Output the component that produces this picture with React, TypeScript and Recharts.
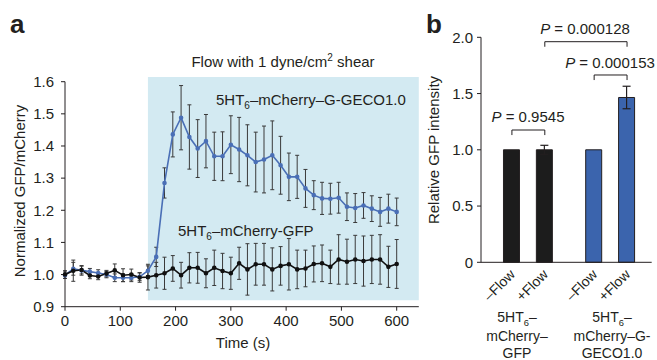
import {Bar, BarChart, Cell, ComposedChart, ErrorBar, Line, ReferenceArea, ReferenceLine, XAxis, YAxis} from 'recharts';

const FONT = '"Liberation Sans", Arial, Helvetica, sans-serif';
const INK = '#231f20';
const LINE_BLUE = '#4a6fb6';
const BAR_BLUE = '#3b64ad';
const BAR_BLACK = '#1c1c1c';
const SHADE = '#d3eaf2';

// panel a: time course, one point every 15 s
const times = [
  0, 15, 30, 45, 60, 75, 90, 105, 120, 135, 150, 165, 180, 195, 210, 225, 240, 255, 270, 285, 300,
  315, 330, 345, 360, 375, 390, 405, 420, 435, 450, 465, 480, 495, 510, 525, 540, 555, 570, 585, 600,
];
const gecoMean = [
  0.998, 1.018, 1.013, 1.009, 1.005, 1.0, 0.99, 0.99, 0.99, 0.993, 1.012, 1.055, 1.285, 1.436, 1.488,
  1.428, 1.392, 1.415, 1.368, 1.368, 1.404, 1.389, 1.371, 1.35, 1.358, 1.371, 1.34, 1.304, 1.304,
  1.268, 1.247, 1.237, 1.236, 1.239, 1.211, 1.207, 1.215, 1.205, 1.195, 1.205, 1.195,
];
const gecoErr = [
  0.01, 0.02, 0.015, 0.01, 0.01, 0.01, 0.012, 0.012, 0.012, 0.012, 0.015, 0.03, 0.047, 0.07, 0.1,
  0.1, 0.09, 0.083, 0.075, 0.076, 0.09, 0.1, 0.095, 0.093, 0.104, 0.107, 0.09, 0.074, 0.067,
  0.059, 0.045, 0.05, 0.048, 0.048, 0.043, 0.045, 0.04, 0.04, 0.045, 0.045, 0.043,
];
const gfpMean = [
  1.0, 1.012, 1.014, 0.997, 0.994, 1.003, 1.013, 0.998, 1.0, 0.991, 0.992, 0.998, 1.004, 1.019, 0.998,
  1.021, 1.021, 1.004, 1.021, 1.011, 1.004, 1.035, 1.016, 1.032, 1.032, 1.016, 1.027, 1.032, 1.016,
  1.019, 1.033, 1.035, 1.024, 1.047, 1.04, 1.047, 1.042, 1.047, 1.047, 1.024, 1.033,
];
const gfpErr = [
  0.012, 0.033, 0.012, 0.01, 0.01, 0.01, 0.02, 0.02, 0.017, 0.015, 0.04, 0.04, 0.05, 0.04, 0.04,
  0.047, 0.048, 0.045, 0.055, 0.055, 0.05, 0.05, 0.08, 0.065, 0.065, 0.067, 0.06, 0.08, 0.06,
  0.057, 0.056, 0.057, 0.052, 0.077, 0.07, 0.075, 0.078, 0.075, 0.077, 0.064, 0.076,
];
const timeTicks = [0, 100, 200, 300, 400, 500, 600];
const ratioTicks = [0.9, 1.0, 1.1, 1.2, 1.3, 1.4, 1.5, 1.6];

// panel b: bars
const barPositions = [1, 2, 3.5, 4.5];
const barLabels = ['\u2013Flow', '+Flow', '\u2013Flow', '+Flow'];
const barMeans = [1.0, 1.0, 1.0, 1.465];
const barErrs = [0, 0.04, 0, 0.1];
const barColors = [BAR_BLACK, BAR_BLACK, BAR_BLUE, BAR_BLUE];
const intensityTicks = [0, 0.5, 1.0, 1.5, 2.0];

// significance brackets: [from, to, level]
const brackets = [
  [1, 2, 1.176],
  [3.5, 4.5, 1.665],
  [2, 4.5, 1.961],
];

const timeData = times.map((t, i) => ({
  t,
  geco: gecoMean[i],
  gecoErr: gecoErr[i],
  gfp: gfpMean[i],
  gfpErr: gfpErr[i],
}));

const barData = barPositions.map((pos, i) => ({pos, value: barMeans[i], err: barErrs[i]}));

const tickStyle = {fontSize: 15, fill: INK, fontFamily: FONT};

const FlowTick = (props: any) => {
  const {x, y, payload} = props;
  const idx = barPositions.indexOf(payload.value);
  const ax = x + 4;
  const ay = y + 5;
  return (
    <text x={ax} y={ay} textAnchor="end" fontSize={14} fill={INK} fontFamily={FONT}
          transform={`rotate(-45, ${ax}, ${ay})`}>
      {barLabels[idx]}
    </text>
  );
};

// "5HT" with a subscript 6, then the rest of the name
const Construct = ({x, y, size, anchor, rest}: any) => (
  <text x={x} y={y} fontSize={size} textAnchor={anchor}>
    5HT<tspan fontSize={size * 0.67} dy={4}>6</tspan><tspan dy={-4}>{rest}</tspan>
  </text>
);

export default function App() {
  return (
    <div style={{position: 'absolute', left: 0, top: 0, width: 657, height: 360, background: '#fff', fontFamily: FONT}}>
      <div style={{position: 'absolute', left: 0, top: 0}}>
        <ComposedChart width={430} height={360} data={timeData}
                       margin={{top: 81.7, right: 11.2, bottom: 23.3, left: 20}}>
          <ReferenceArea x1={150} x2={640} y1={0.92} y2={1.615} fill={SHADE} fillOpacity={1}
                         stroke="none" ifOverflow="visible" />
          <XAxis dataKey="t" type="number" domain={[0, 640]} ticks={timeTicks} height={30}
                 tick={tickStyle} tickSize={4} tickMargin={5}
                 axisLine={{stroke: INK}} tickLine={{stroke: INK}} />
          <YAxis type="number" domain={[0.9, 1.6]} ticks={ratioTicks} width={45}
                 tick={tickStyle} tickSize={4} tickMargin={7}
                 tickFormatter={(v: number) => v.toFixed(1)}
                 axisLine={{stroke: INK}} tickLine={{stroke: INK}} />
          <Line dataKey="geco" stroke={LINE_BLUE} strokeWidth={1.6} isAnimationActive={false}
                dot={{r: 1.5, fill: LINE_BLUE, stroke: LINE_BLUE}}>
            <ErrorBar dataKey="gecoErr" width={2} stroke="#3a3a3a" strokeWidth={1} direction="y" />
          </Line>
          <Line dataKey="gfp" stroke="#111" strokeWidth={1.6} isAnimationActive={false}
                dot={{r: 1.5, fill: '#111', stroke: '#111'}}>
            <ErrorBar dataKey="gfpErr" width={2} stroke="#3a3a3a" strokeWidth={1} direction="y" />
          </Line>
        </ComposedChart>
      </div>

      <div style={{position: 'absolute', left: 420, top: 0}}>
        <BarChart width={237} height={360} data={barData}
                  margin={{top: 37.3, right: 5.3, bottom: 67.7, left: 20}}>
          <XAxis dataKey="pos" type="number" domain={[0.06, 5.25]} ticks={barPositions} height={30}
                 tick={<FlowTick />} tickLine={false} axisLine={{stroke: INK}} interval={0} />
          <YAxis type="number" domain={[0, 2]} ticks={intensityTicks} width={41}
                 tick={tickStyle} tickSize={4} tickMargin={4}
                 tickFormatter={(v: number) => (v === 0 ? '0' : v.toFixed(1))}
                 axisLine={{stroke: INK}} tickLine={{stroke: INK}} />
          <Bar dataKey="value" barSize={16} stroke={INK} strokeWidth={1} isAnimationActive={false}>
            {barData.map((d, i) => (
              <Cell key={`bar-${i}`} fill={barColors[i]} />
            ))}
            <ErrorBar dataKey="err" width={4} stroke={INK} strokeWidth={1.2} direction="y" />
          </Bar>
          {brackets.map(([a, b, lvl], i) => (
            <ReferenceLine key={`bh-${i}`} ifOverflow="visible" stroke={INK} strokeWidth={1}
                           segment={[{x: a, y: lvl}, {x: b, y: lvl}]} />
          ))}
          {brackets.map(([a, , lvl], i) => (
            <ReferenceLine key={`bl-${i}`} ifOverflow="visible" stroke={INK} strokeWidth={1}
                           segment={[{x: a, y: lvl}, {x: a, y: lvl - 0.045}]} />
          ))}
          {brackets.map(([, b, lvl], i) => (
            <ReferenceLine key={`br-${i}`} ifOverflow="visible" stroke={INK} strokeWidth={1}
                           segment={[{x: b, y: lvl}, {x: b, y: lvl - 0.045}]} />
          ))}
        </BarChart>
      </div>

      <svg width={657} height={360} style={{position: 'absolute', left: 0, top: 0, pointerEvents: 'none'}}
           fontFamily={FONT} fill={INK}>
        <text x={10} y={33} fontSize={26} fontWeight="bold">a</text>
        <text x={426} y={33} fontSize={26} fontWeight="bold">b</text>

        <text x={283} y={67} fontSize={15} textAnchor="middle">
          Flow with 1 dyne/cm<tspan fontSize={10} dy={-6}>2</tspan><tspan dy={6}> shear</tspan>
        </text>
        <Construct x={216} y={105} size={15} anchor="start" rest={'\u2013mCherry\u2013G-GECO1.0'} />
        <Construct x={178} y={236} size={15} anchor="start" rest={'\u2013mCherry-GFP'} />

        <text transform="translate(24.5,191) rotate(-90)" fontSize={15} textAnchor="middle">
          Normalized GFP/mCherry
        </text>
        <text x={243} y={348} fontSize={15} textAnchor="middle">Time (s)</text>

        <text transform="translate(438.5,150) rotate(-90)" fontSize={15} textAnchor="middle">
          Relative GFP intensity
        </text>

        <text x={528} y={122} fontSize={15} textAnchor="middle">
          <tspan fontStyle="italic">P</tspan> = 0.9545
        </text>
        <text x={610} y={68} fontSize={15} textAnchor="middle">
          <tspan fontStyle="italic">P</tspan> = 0.000153
        </text>
        <text x={585} y={33.5} fontSize={15} textAnchor="middle">
          <tspan fontStyle="italic">P</tspan> = 0.000128
        </text>

        <Construct x={517} y={321.5} size={14} anchor="middle" rest={'\u2013'} />
        <text x={517} y={340.5} fontSize={14} textAnchor="middle">mCherry{'\u2013'}</text>
        <text x={517} y={357.5} fontSize={14} textAnchor="middle">GFP</text>
        <Construct x={612} y={321.5} size={14} anchor="middle" rest={'\u2013'} />
        <text x={612} y={340.5} fontSize={14} textAnchor="middle">mCherry{'\u2013'}G-</text>
        <text x={612} y={357.5} fontSize={14} textAnchor="middle">GECO1.0</text>
      </svg>
    </div>
  );
}
